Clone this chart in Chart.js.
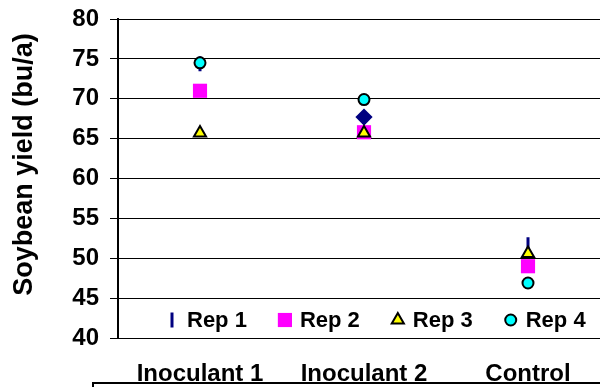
<!DOCTYPE html>
<html>
<head>
<meta charset="utf-8">
<script src="https://cdn.jsdelivr.net/npm/chart.js@4/dist/chart.umd.min.js"></script>
<style>
  body { margin: 0; overflow: hidden; background: #fff; }
  canvas { display: block; }
</style>
</head>
<body>
<canvas id="chart" width="630" height="387"></canvas>
<script>
// values
const treatments = ['Inoculant 1', 'Inoculant 2', 'Control'];
const rep1 = [74.4, 67.7, 51.7];
const rep2 = [71.0, 65.8, 49.0];
const rep3 = [65.7, 65.7, 50.6];
const rep4 = [74.5, 69.9, 46.9];
const yTicks = [40, 45, 50, 55, 60, 65, 70, 75, 80];
const yTitle = 'Soybean yield (bu/a)';

Chart.defaults.font.family = "'Liberation Sans', Arial, sans-serif";
Chart.defaults.color = '#000';

// legend sits inside the plot, title and box are drawn by hand
const extras = {
    id: 'extras',
    afterDraw(chart) {
        const ctx = chart.ctx;
        const area = chart.chartArea;
        ctx.save();

        // legend
        ctx.font = "bold 22px 'Liberation Sans', Arial";
        ctx.textBaseline = 'middle';
        ctx.textAlign = 'left';
        let x = area.left + 54;
        const y = area.bottom - 18;
        chart.data.datasets.forEach((ds) => {
            const ps = Array.isArray(ds.pointStyle) ? ds.pointStyle[0] : ds.pointStyle;
            const rot = Array.isArray(ds.rotation) ? ds.rotation[0] : (ds.rotation || 0);
            const rad = Array.isArray(ds.pointRadius) ? ds.pointRadius[0] : ds.pointRadius;
            ctx.fillStyle = ds.backgroundColor;
            ctx.strokeStyle = ds.borderColor;
            ctx.lineWidth = ds.borderWidth;
            Chart.helpers.drawPoint(ctx, {pointStyle: ps, rotation: rot, radius: rad, borderWidth: ds.borderWidth}, x, y);
            ctx.fillStyle = '#000';
            ctx.fillText(ds.label, x + 15, y + 1);
            x += 15 + ctx.measureText(ds.label).width + 38;
        });

        // y axis title
        ctx.font = "bold 27px 'Liberation Sans', Arial";
        ctx.textAlign = 'center';
        ctx.translate(25, 164.5);
        ctx.rotate(-Math.PI / 2);
        ctx.fillText(yTitle, 0, 0);
        ctx.setTransform(1, 0, 0, 1, 0, 0);

        // box under the category labels
        ctx.strokeStyle = '#000';
        ctx.lineWidth = 2;
        ctx.beginPath();
        ctx.moveTo(93, 390);
        ctx.lineTo(93, 383);
        ctx.lineTo(chart.width, 383);
        ctx.stroke();
        ctx.restore();
    }
};

const ctx = document.getElementById('chart').getContext('2d');
const chart = new Chart(ctx, {
    type: 'line',
    data: {
        labels: treatments,
        datasets: [{
            label: 'Rep 1',
            data: rep1,
            pointStyle: ['line', 'rectRot', 'line'],
            rotation: [90, 0, 90],
            pointRadius: [7.5, 6.5, 7.5],
            backgroundColor: '#000080',
            borderColor: '#000080',
            borderWidth: 3,
            order: 4
        }, {
            label: 'Rep 2',
            data: rep2,
            pointStyle: 'rect',
            pointRadius: 10,
            backgroundColor: '#ff00ff',
            borderColor: '#ff00ff',
            borderWidth: 0,
            order: 3
        }, {
            label: 'Rep 3',
            data: rep3,
            pointStyle: 'triangle',
            pointRadius: 7,
            backgroundColor: '#ffff00',
            borderColor: '#000',
            borderWidth: 2,
            order: 2
        }, {
            label: 'Rep 4',
            data: rep4,
            pointStyle: 'circle',
            pointRadius: 5.5,
            backgroundColor: '#00ffff',
            borderColor: '#000',
            borderWidth: 2,
            order: 1
        }]
    },
    options: {
        responsive: false,
        animation: false,
        devicePixelRatio: 1,
        showLine: false,
        layout: { padding: { top: 19, right: 20, bottom: 0, left: 0 } },
        plugins: {
            legend: { display: false },
            tooltip: { enabled: false }
        },
        scales: {
            x: {
                offset: true,
                grid: { display: false, drawTicks: false },
                border: { display: true, color: '#000', width: 1 },
                ticks: { font: { size: 24, weight: 'bold' }, padding: 22, color: '#000' },
                afterFit: (s) => { s.height = 49; }
            },
            y: {
                min: 40,
                max: 80,
                afterBuildTicks: (s) => { s.ticks = yTicks.map(v => ({ value: v })); },
                grid: { color: '#000', lineWidth: 1, tickLength: 8 },
                border: { color: '#000', width: 2 },
                ticks: { font: { size: 24, weight: 'bold' }, padding: 11, color: '#000' },
                afterFit: (s) => {
                    s.width = 118;
                    s.paddingTop = 0;
                    s.paddingBottom = 0;
                }
            }
        }
    },
    plugins: [extras]
});
</script>
</body>
</html>
